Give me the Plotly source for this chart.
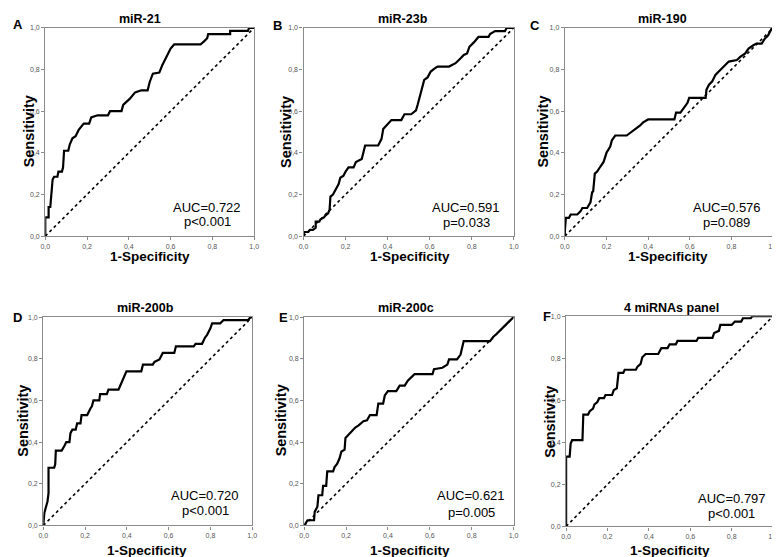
import plotly.graph_objects as go

W, H = 780, 557

# ---------------- data ----------------
titles = ["miR-21", "miR-23b", "miR-190", "miR-200b", "miR-200c", "4 miRNAs panel"]
letters = ["A", "B", "C", "D", "E", "F"]
auc_labels = ["AUC=0.722", "AUC=0.591", "AUC=0.576", "AUC=0.720", "AUC=0.621", "AUC=0.797"]
p_labels = ["p&lt;0.001", "p=0.033", "p=0.089", "p&lt;0.001", "p=0.005", "p&lt;0.001"]
tick_vals = [0.0, 0.2, 0.4, 0.6, 0.8, 1.0]
tick_text = ["0,0", "0,2", "0,4", "0,6", "0,8", "1,0"]
diag_x = [0.0, 1.0]
diag_y = [0.0, 1.0]

A_fpr = [0, 0, 0.016, 0.016, 0.024, 0.03, 0.035, 0.042, 0.058, 0.063, 0.08, 0.085, 0.09, 0.11, 0.117, 0.13, 0.145, 0.16, 0.184, 0.21, 0.22, 0.25, 0.30, 0.31, 0.365, 0.373, 0.405, 0.43, 0.46, 0.49, 0.5, 0.515, 0.546, 0.56, 0.586, 0.6, 0.617, 0.743, 0.76, 0.775, 0.78, 0.885, 0.885, 0.97, 0.976, 1.0]
A_tpr = [0, 0.09, 0.09, 0.14, 0.14, 0.22, 0.27, 0.285, 0.285, 0.31, 0.31, 0.33, 0.41, 0.41, 0.44, 0.47, 0.48, 0.51, 0.54, 0.54, 0.57, 0.58, 0.58, 0.60, 0.60, 0.63, 0.66, 0.69, 0.70, 0.70, 0.74, 0.78, 0.785, 0.82, 0.87, 0.90, 0.92, 0.92, 0.935, 0.95, 0.97, 0.97, 0.985, 0.985, 1.0, 1.0]

B_fpr = [0, 0.003, 0.023, 0.03, 0.045, 0.058, 0.058, 0.075, 0.08, 0.097, 0.105, 0.117, 0.124, 0.128, 0.14, 0.152, 0.167, 0.175, 0.19, 0.2, 0.214, 0.238, 0.249, 0.277, 0.285, 0.293, 0.355, 0.371, 0.379, 0.395, 0.418, 0.465, 0.48, 0.512, 0.535, 0.543, 0.559, 0.574, 0.59, 0.605, 0.621, 0.637, 0.692, 0.723, 0.746, 0.762, 0.778, 0.789, 0.81, 0.832, 0.88, 0.887, 0.911, 0.958, 0.966, 1.0]
B_tpr = [0, 0.02, 0.02, 0.03, 0.03, 0.04, 0.07, 0.07, 0.08, 0.09, 0.1, 0.11, 0.127, 0.19, 0.2, 0.22, 0.25, 0.28, 0.29, 0.31, 0.33, 0.33, 0.356, 0.37, 0.40, 0.435, 0.435, 0.467, 0.514, 0.53, 0.557, 0.557, 0.585, 0.585, 0.604, 0.632, 0.696, 0.75, 0.762, 0.79, 0.803, 0.814, 0.814, 0.83, 0.853, 0.87, 0.877, 0.909, 0.93, 0.956, 0.956, 0.97, 0.984, 0.984, 1.0, 1.0]

C_fpr = [0, 0, 0.005, 0.02, 0.028, 0.06, 0.076, 0.084, 0.107, 0.115, 0.123, 0.131, 0.136, 0.144, 0.155, 0.17, 0.186, 0.2, 0.218, 0.226, 0.242, 0.297, 0.313, 0.336, 0.36, 0.376, 0.4, 0.526, 0.534, 0.555, 0.573, 0.589, 0.597, 0.676, 0.68, 0.692, 0.708, 0.723, 0.739, 0.755, 0.771, 0.787, 0.826, 0.842, 0.866, 0.882, 0.905, 0.92, 0.945, 0.96, 0.976, 0.992, 1.0]
C_tpr = [0, 0.025, 0.088, 0.088, 0.104, 0.104, 0.12, 0.135, 0.135, 0.15, 0.162, 0.21, 0.215, 0.30, 0.31, 0.333, 0.356, 0.40, 0.43, 0.46, 0.483, 0.483, 0.494, 0.514, 0.53, 0.546, 0.56, 0.56, 0.593, 0.593, 0.617, 0.64, 0.664, 0.664, 0.703, 0.727, 0.743, 0.774, 0.79, 0.806, 0.82, 0.838, 0.845, 0.86, 0.877, 0.9, 0.916, 0.924, 0.924, 0.948, 0.964, 0.995, 1.0]

D_fpr = [0, 0.005, 0.013, 0.02, 0.025, 0.025, 0.052, 0.057, 0.06, 0.088, 0.1, 0.11, 0.125, 0.13, 0.139, 0.155, 0.162, 0.178, 0.183, 0.21, 0.225, 0.233, 0.24, 0.268, 0.272, 0.304, 0.312, 0.36, 0.367, 0.383, 0.398, 0.469, 0.477, 0.524, 0.532, 0.556, 0.572, 0.627, 0.635, 0.72, 0.729, 0.76, 0.773, 0.784, 0.792, 0.8, 0.808, 0.847, 0.863, 0.98, 0.99, 1.0]
D_tpr = [0, 0.06, 0.09, 0.115, 0.155, 0.277, 0.277, 0.293, 0.359, 0.359, 0.38, 0.40, 0.40, 0.443, 0.46, 0.46, 0.49, 0.49, 0.53, 0.53, 0.56, 0.573, 0.6, 0.6, 0.63, 0.63, 0.652, 0.652, 0.668, 0.707, 0.74, 0.74, 0.772, 0.772, 0.785, 0.797, 0.828, 0.828, 0.86, 0.86, 0.872, 0.872, 0.9, 0.915, 0.93, 0.946, 0.97, 0.97, 0.986, 0.986, 0.997, 1.0]

E_fpr = [0, 0.005, 0.016, 0.047, 0.05, 0.063, 0.068, 0.086, 0.09, 0.105, 0.11, 0.138, 0.145, 0.157, 0.168, 0.178, 0.19, 0.193, 0.197, 0.212, 0.228, 0.244, 0.26, 0.283, 0.3, 0.314, 0.346, 0.354, 0.377, 0.385, 0.4, 0.44, 0.456, 0.48, 0.495, 0.527, 0.613, 0.62, 0.66, 0.684, 0.692, 0.73, 0.747, 0.762, 0.888, 0.904, 0.92, 0.936, 0.959, 0.983, 1.0]
E_tpr = [0, 0.01, 0.025, 0.025, 0.065, 0.09, 0.145, 0.145, 0.19, 0.19, 0.26, 0.26, 0.28, 0.295, 0.32, 0.355, 0.364, 0.364, 0.42, 0.435, 0.45, 0.47, 0.48, 0.5, 0.505, 0.53, 0.53, 0.585, 0.585, 0.624, 0.645, 0.645, 0.671, 0.671, 0.695, 0.726, 0.726, 0.75, 0.757, 0.772, 0.797, 0.797, 0.82, 0.885, 0.885, 0.906, 0.92, 0.937, 0.96, 0.986, 1.0]

F_fpr = [0, 0, 0.017, 0.022, 0.029, 0.079, 0.083, 0.106, 0.114, 0.13, 0.137, 0.15, 0.16, 0.183, 0.19, 0.222, 0.23, 0.245, 0.253, 0.276, 0.283, 0.337, 0.345, 0.36, 0.368, 0.384, 0.445, 0.453, 0.46, 0.49, 0.5, 0.53, 0.538, 0.63, 0.638, 0.707, 0.715, 0.738, 0.745, 0.8, 0.815, 0.846, 0.854, 0.892, 0.9, 1.0]
F_tpr = [0, 0.332, 0.332, 0.394, 0.41, 0.41, 0.532, 0.532, 0.548, 0.56, 0.58, 0.59, 0.61, 0.61, 0.625, 0.625, 0.648, 0.657, 0.73, 0.73, 0.745, 0.745, 0.76, 0.773, 0.804, 0.82, 0.82, 0.835, 0.848, 0.848, 0.866, 0.866, 0.882, 0.882, 0.897, 0.897, 0.92, 0.93, 0.958, 0.958, 0.974, 0.974, 0.99, 0.99, 1.0, 1.0]

curves = [(A_fpr, A_tpr), (B_fpr, B_tpr), (C_fpr, C_tpr),
          (D_fpr, D_tpr), (E_fpr, E_tpr), (F_fpr, F_tpr)]

# ---------------- layout (pixel geometry) ----------------
boxes = [(32.7, 244.3, 16, 227), (294.3, 507.3, 16, 227), (559, 770, 16, 227),
         (30.7, 242.3, 309, 520), (295, 507, 309, 520), (560.3, 770, 308, 521)]
title_pos = [(129, 7), (395.5, 7), (658, 7), (134, 300), (398, 300), (667, 300)]
letter_pos = [(5, 13), (268, 14), (529, 14), (5, 309), (274, 309), (541, 308)]
ylab_pos = [(17, 121), (277, 121), (537, 121), (10, 414), (271, 414), (544, 415)]
xlab_pos = [(139, 248), (401.7, 248), (663, 248), (136, 545), (402.5, 545), (666, 545)]
auc_pos = [(197, 198, 212), (459, 198, 213), (723, 198, 213),
           (194.7, 490, 505), (464, 490, 507), (728, 493, 508)]

def px(x):
    return x / W

def py(y):
    return 1 - y / H

FONT = "Liberation Sans, Arial, sans-serif"
AXC = "#8a8a8a"

fig = go.Figure()
annotations = []
for i, ((fpr, tpr), (l, r, t, b)) in enumerate(zip(curves, boxes)):
    n = "" if i == 0 else str(i + 1)
    xa, ya = "x" + n, "y" + n
    fig.add_trace(go.Scatter(x=diag_x, y=diag_y, xaxis=xa, yaxis=ya, mode="lines",
                             line=dict(color="black", width=1.6, dash="dot"),
                             hoverinfo="skip", showlegend=False, cliponaxis=False))
    fig.add_trace(go.Scatter(x=fpr, y=tpr, xaxis=xa, yaxis=ya, mode="lines",
                             line=dict(color="black", width=2.2),
                             showlegend=False, cliponaxis=False))
    axis_common = dict(range=[0, 1], tickvals=tick_vals, ticktext=tick_text,
                       showgrid=False, zeroline=False, showline=True, mirror=True,
                       linecolor=AXC, linewidth=1.3, ticks="outside", ticklen=3,
                       tickcolor=AXC, tickwidth=1, fixedrange=True,
                       tickfont=dict(size=7, color="#555555", family=FONT))
    fig.layout["xaxis" + n] = dict(domain=[px(l), px(r)], anchor=ya, **axis_common)
    fig.layout["yaxis" + n] = dict(domain=[py(b), py(t)], anchor=xa, **axis_common)

    tx, ty = title_pos[i]
    annotations.append(dict(text="<b>%s</b>" % titles[i], x=px(tx), y=py(ty),
                            xref="paper", yref="paper", showarrow=False,
                            xanchor="center", yanchor="middle",
                            font=dict(size=12.5, color="black", family=FONT)))
    lx, ly = letter_pos[i]
    annotations.append(dict(text="<b>%s</b>" % letters[i], x=px(lx), y=py(ly),
                            xref="paper", yref="paper", showarrow=False,
                            xanchor="center", yanchor="middle",
                            font=dict(size=13, color="black", family=FONT)))
    sx, sy = ylab_pos[i]
    annotations.append(dict(text="<b>Sensitivity</b>", x=px(sx), y=py(sy),
                            xref="paper", yref="paper", showarrow=False, textangle=-90,
                            xanchor="center", yanchor="middle",
                            font=dict(size=14.4, color="black", family=FONT)))
    qx, qy = xlab_pos[i]
    annotations.append(dict(text="<b>1-Specificity</b>", x=px(qx), y=py(qy),
                            xref="paper", yref="paper", showarrow=False,
                            xanchor="center", yanchor="middle", borderpad=0,
                            font=dict(size=13.5, color="black", family=FONT)))
    ax_, ay1, ay2 = auc_pos[i]
    annotations.append(dict(text=auc_labels[i], x=px(ax_), y=py(ay1),
                            xref="paper", yref="paper", showarrow=False,
                            xanchor="center", yanchor="middle",
                            font=dict(size=13, color="black", family=FONT)))
    annotations.append(dict(text=p_labels[i], x=px(ax_), y=py(ay2),
                            xref="paper", yref="paper", showarrow=False,
                            xanchor="center", yanchor="middle",
                            font=dict(size=13, color="black", family=FONT)))

fig.update_layout(width=W, height=H, margin=dict(l=0, r=0, t=0, b=0),
                  paper_bgcolor="white", plot_bgcolor="white",
                  annotations=annotations, showlegend=False,
                  font=dict(family=FONT))

fig.write_html("out.html")
